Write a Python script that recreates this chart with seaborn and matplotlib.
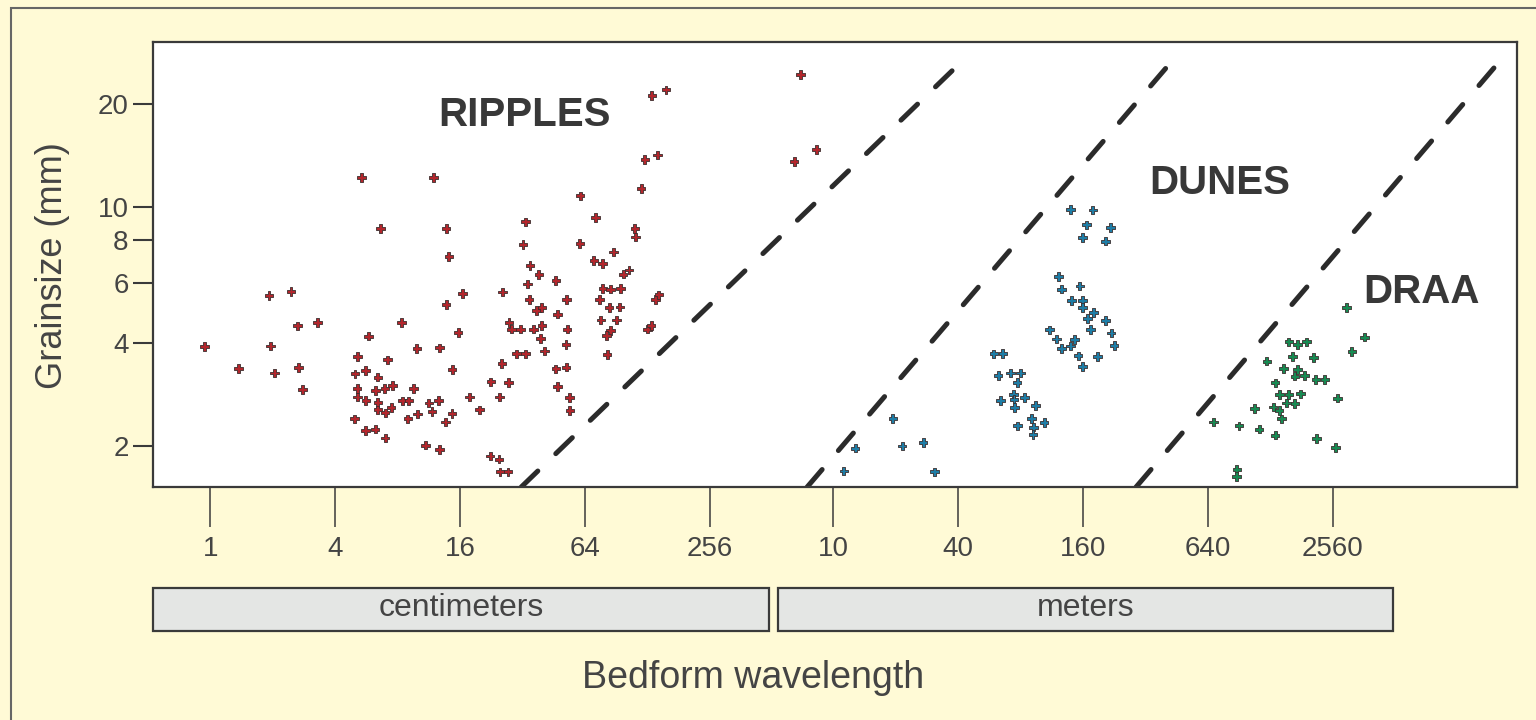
import numpy as np
import pandas as pd
import seaborn as sns
import matplotlib.pyplot as plt
from matplotlib.patches import Rectangle

# bedform wavelength (cm) and grainsize (mm)
ripple_wl = [0.94, 1.37, 1.92, 2.45, 1.95, 2.04, 2.64, 3.28, 2.66, 2.78,
             5.34, 11.9, 6.61, 13.7, 14.1, 13.7, 8.32, 5.79, 5.12, 7.15,
             9.9, 12.7, 4.98, 5.6, 6.42, 5.1, 5.12, 5.62, 6.26, 6.94,
             7.53, 6.42, 6.42, 6.96, 7.44, 8.4, 9.06, 9.53, 11.3, 12.6,
             11.7, 9.97, 8.96, 13.6, 4.96, 5.58, 6.23, 6.96, 10.9, 12.7,
             16.4, 15.65, 14.64, 14.6, 17.74, 19.8, 22.5, 24.7, 27.3, 25.4,
             25.6, 22.3, 24.6, 24.9, 27.2, 27.5, 28.2, 31.2, 29.9, 33.0,
             33.0, 32.1, 34.7, 38.3, 33.8, 34.4, 46.2, 37.4, 39.6, 36.1,
             39.6, 38.9, 40.8, 47.1, 52.0, 52.4, 51.7, 46.2, 51.8, 47.1,
             53.8, 54.0, 60.5, 60.3, 71.7, 70.5, 77.5, 87.6, 77.9, 84.7,
             94.7, 75.0, 83.5, 94.0, 76.2, 90.6, 84.7, 81.1, 81.7, 97.5,
             104, 111, 112, 119, 124, 143, 134, 157, 140, 145,
             128, 133, 697, 650, 829]
ripple_gs = [3.9, 3.37, 5.5, 5.65, 3.92, 3.27, 4.49, 4.59, 3.39, 2.92,
             12.2, 12.2, 8.66, 8.66, 7.15, 5.19, 4.6, 4.19, 3.65, 3.57,
             3.86, 3.87, 3.25, 3.33, 3.18, 2.95, 2.78, 2.72, 2.9, 2.95,
             3.0, 2.68, 2.55, 2.5, 2.59, 2.71, 2.71, 2.94, 2.67, 2.72,
             2.52, 2.48, 2.4, 2.35, 2.4, 2.22, 2.24, 2.11, 2.01, 1.95,
             5.59, 4.29, 3.35, 2.49, 2.78, 2.55, 3.08, 2.78, 3.07, 3.48,
             5.64, 1.87, 1.83, 1.68, 1.68, 4.59, 4.39, 4.39, 3.72, 3.72,
             9.04, 7.76, 6.75, 6.35, 5.95, 5.36, 6.09, 4.97, 5.08, 4.39,
             4.5, 4.13, 3.79, 4.86, 5.36, 4.39, 3.96, 3.36, 3.4, 2.98,
             2.77, 2.54, 10.77, 7.83, 9.3, 6.97, 6.84, 7.38, 5.77, 5.75,
             5.77, 5.37, 5.08, 5.1, 4.67, 4.67, 4.35, 4.2, 3.7, 6.36,
             6.54, 8.65, 8.17, 11.34, 13.78, 14.19, 21.2, 22.0, 5.37, 5.53,
             4.39, 4.5, 24.4, 13.6, 14.7]

dune_wl = [1128, 1278, 1942, 2153, 2718, 3080, 5952, 6576, 6244, 7186,
           7996, 7708, 6405, 7398, 7450, 7475, 8392, 9443, 7745, 9068,
           9260, 10400, 9202, 11030, 11970, 12600, 13980, 14610, 15160, 15960,
           18780, 12190, 12610, 15450, 14080, 15960, 15960, 18040, 16810, 17380,
           20610, 21860, 22600, 13920, 17850, 16620, 21690, 15880, 20560]
dune_gs = [1.69, 1.97, 2.41, 2.0, 2.05, 1.68, 3.72, 3.73, 3.21, 3.27,
           3.27, 3.07, 2.72, 2.83, 2.74, 2.59, 2.77, 2.63, 2.29, 2.41,
           2.27, 2.34, 2.16, 4.37, 4.11, 3.86, 3.92, 4.1, 3.67, 3.41,
           3.65, 6.25, 5.75, 5.87, 5.33, 5.33, 5.08, 4.92, 4.71, 4.38,
           4.65, 4.28, 3.94, 9.82, 9.8, 8.86, 8.72, 8.15, 7.94]

draa_wl = [297000, 364000, 316000, 157000, 173000, 191000, 164000, 207000, 123000, 148000,
           173000, 168000, 187000, 212000, 234000, 135000, 142000, 157000, 179000, 153000,
           168000, 270000, 107000, 132000, 141000, 145000, 68000, 90400, 113000, 135000,
           213000, 263000, 88200, 87700]
draa_gs = [5.08, 4.16, 3.78, 4.03, 3.96, 4.03, 3.65, 3.63, 3.54, 3.37,
           3.35, 3.2, 3.22, 3.13, 3.13, 3.06, 2.83, 2.83, 2.84, 2.67,
           2.66, 2.76, 2.57, 2.6, 2.54, 2.4, 2.35, 2.29, 2.24, 2.15,
           2.1, 1.98, 1.71, 1.63]

# boundary lines (wavelength cm, grainsize mm) end points
bound1_wl = [31.5, 4378]
bound2_wl = [751, 45460]
bound3_wl = [28850, 1.726e6]
bound_gs_lo = 1.517
bound_gs_hi = [27.4, 27.8, 27.8]

xtick_pos = [1, 4, 16, 64, 256, 1000, 4000, 16000, 64000, 256000]
xtick_lab = ["1", "4", "16", "64", "256", "10", "40", "160", "640", "2560"]
ytick_pos = [2, 4, 6, 8, 10, 20]

df = pd.DataFrame({
    "wl": ripple_wl + dune_wl + draa_wl,
    "gs": ripple_gs + dune_gs + draa_gs,
    "kind": ["ripple"] * len(ripple_wl) + ["dune"] * len(dune_wl) + ["draa"] * len(draa_wl),
})

sns.set_style("white")
plt.rcParams['font.family'] = ['Liberation Sans', 'DejaVu Sans']

bg = "#FFFAD6"
ink = "#3a3a3a"
fig = plt.figure(figsize=(15.36, 7.2), dpi=100, facecolor=bg)
ax = fig.add_axes([153/1536, 1 - 487/720, (1517-153)/1536, (487-42)/720])
ax.set_facecolor("white")

# dashed boundaries
for wl, top in zip([bound1_wl, bound2_wl, bound3_wl], bound_gs_hi):
    ax.plot(wl, [bound_gs_lo, top], color="#2b2b2b", lw=3.6,
            linestyle=(0, (4.6, 5.0)), dash_capstyle="round", zorder=2)

pal = {"ripple": "#B3262C", "dune": "#1E7DA6", "draa": "#178A52"}
sns.scatterplot(data=df, x="wl", y="gs", hue="kind", palette=pal, marker="P",
                s=38, edgecolor="#3b2e2e", linewidth=0.6, legend=False, ax=ax, zorder=3)

ax.set_xscale("log", base=2)
ax.set_yscale("log")
ax.set_xlim(0.53, 1.973e6)
ax.set_ylim(1.517, 30.36)
ax.set_xticks(xtick_pos)
ax.set_xticklabels(xtick_lab)
ax.set_yticks(ytick_pos)
ax.set_yticklabels([str(v) for v in ytick_pos])
ax.minorticks_off()
ax.tick_params(axis="x", direction="out", length=29, width=1.1, color=ink,
               labelsize=20, labelcolor="#444444", pad=6, bottom=True)
ax.tick_params(axis="y", direction="out", length=14.5, width=1.5, color=ink,
               labelsize=20, labelcolor="#444444", pad=3, left=True)
ax.set_xlabel("")
ax.set_ylabel("")
for sp in ax.spines.values():
    sp.set_color(ink)
    sp.set_linewidth(1.6)

lab = dict(fontsize=29, fontweight="bold", color="#383838", ha="center", va="center",
           transform=ax.transAxes)
ax.text(0.2727, 0.836, "RIPPLES", **lab)
ax.text(0.782, 0.683, "DUNES", **lab)
ax.text(0.930, 0.438, "DRAA", **lab)

# unit boxes under the axis
for x0, x1, txt in [(153, 769, "centimeters"), (778, 1393, "meters")]:
    fig.patches.append(Rectangle((x0/1536, 1 - 631/720), (x1-x0)/1536, 43/720,
                                 transform=fig.transFigure, facecolor="#E4E6E4",
                                 edgecolor=ink, lw=1.6))
    fig.text((x0 + x1) / 2 / 1536, 1 - 608/720, txt, fontsize=23, color="#444444",
             ha="center", va="center")

fig.text(753/1536, 1 - 678/720, "Bedform wavelength", fontsize=27, color="#444444",
         ha="center", va="center")
fig.text(52/1536, 1 - 266/720, "Grainsize (mm)", fontsize=26, color="#444444",
         ha="center", va="center", rotation=90)

# outer frame
fig.patches.append(Rectangle((11/1536, -0.05), 1.1, 1 - 8/720 + 0.05,
                             transform=fig.transFigure, fill=False,
                             edgecolor="#666666", lw=1.5))

fig.savefig("out.png", dpi=100, facecolor=bg)
